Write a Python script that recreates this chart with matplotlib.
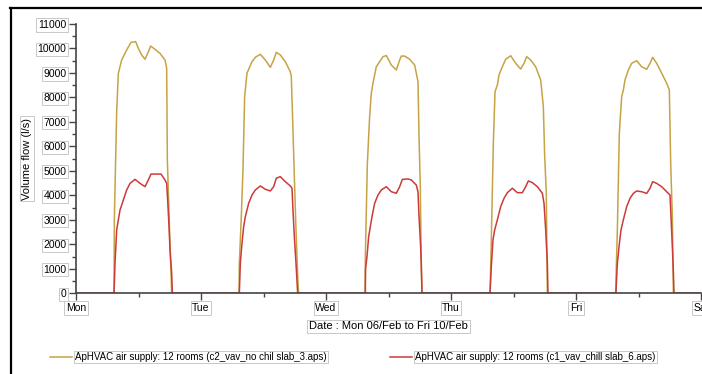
import numpy as np
import matplotlib
matplotlib.use('Agg')
import matplotlib.pyplot as plt
from matplotlib.lines import Line2D
from matplotlib.ticker import MultipleLocator

plt.rcParams['font.family'] = ['Liberation Sans', 'DejaVu Sans']

# Day names on the x axis (hours from Mon 00:00)
day_labels = ['Mon', 'Tue', 'Wed', 'Thu', 'Fri', 'Sat']

# c2_vav_no chil slab_3 : hour of day / flow (l/s), one pair per day
mon_a_h = [7.30, 7.36, 7.81, 8.13, 8.77, 9.73, 10.56, 11.46, 11.97, 12.61, 13.25, 13.76, 14.34, 15.17, 16.13, 17.09, 17.41, 17.54, 17.92, 18.37]
mon_a_v = [0, 3000, 7420, 8985, 9530, 9940, 10250, 10280, 10000, 9735, 9560, 9800, 10100, 9965, 9800, 9530, 9190, 5440, 2870, 0]
tue_a_h = [7.30, 7.36, 7.74, 8.06, 8.38, 8.83, 9.79, 10.43, 11.39, 12.35, 13.31, 13.95, 14.46, 15.23, 16.19, 17.15, 17.34, 17.60, 17.92, 18.24, 18.62, 18.75]
tue_a_v = [0, 1225, 3130, 5040, 8030, 8990, 9460, 9640, 9763, 9530, 9230, 9530, 9845, 9735, 9460, 9050, 8850, 7080, 4760, 2585, 420, 0]
wed_a_h = [7.50, 7.55, 7.94, 8.38, 8.70, 9.02, 9.66, 10.30, 10.94, 11.58, 12.54, 13.50, 14.14, 14.46, 15.10, 16.06, 17.02, 17.66, 17.86, 18.11, 18.30, 18.43]
wed_a_v = [0, 1500, 5310, 7215, 8170, 8580, 9255, 9460, 9665, 9710, 9325, 9120, 9530, 9690, 9690, 9560, 9325, 8645, 6400, 4355, 950, 0]
thu_a_h = [7.49, 7.74, 8.13, 8.45, 8.90, 9.22, 9.86, 10.50, 11.46, 12.42, 13.38, 14.02, 14.53, 15.30, 16.26, 17.22, 17.73, 17.98, 18.30, 18.50]
thu_a_v = [0, 2180, 6130, 8235, 8510, 8920, 9255, 9560, 9705, 9395, 9160, 9395, 9665, 9530, 9255, 8715, 7620, 5650, 4085, 0]
fri_a_h = [7.66, 7.68, 7.94, 8.32, 8.77, 9.09, 9.41, 10.05, 10.69, 11.65, 12.61, 13.57, 14.21, 14.72, 15.49, 16.45, 17.41, 17.92, 18.18, 18.50, 18.69]
fri_a_v = [0, 610, 2585, 6535, 8030, 8305, 8715, 9120, 9395, 9500, 9255, 9150, 9395, 9640, 9395, 8990, 8580, 8305, 5310, 3130, 0]

# c1_vav_chill slab_6
mon_b_h = [7.30, 7.49, 7.81, 8.13, 8.45, 9.09, 9.73, 10.37, 11.33, 12.29, 13.25, 13.89, 14.40, 15.49, 16.32, 17.09, 17.41, 17.60, 17.86, 18.05, 18.37, 18.50]
mon_b_v = [0, 1225, 2590, 3000, 3400, 3810, 4220, 4490, 4655, 4490, 4355, 4630, 4870, 4870, 4870, 4630, 4490, 3810, 2720, 1770, 817, 0]
tue_b_h = [7.36, 7.55, 7.87, 8.19, 8.51, 9.15, 9.79, 10.43, 11.39, 12.35, 13.31, 13.95, 14.46, 15.23, 16.19, 17.15, 17.47, 17.66, 17.92, 18.24, 18.56]
tue_b_v = [0, 1225, 2040, 2720, 3130, 3675, 4015, 4220, 4383, 4250, 4180, 4355, 4700, 4765, 4560, 4383, 4290, 3400, 2310, 1225, 0]
wed_b_h = [7.55, 7.60, 7.87, 8.19, 8.51, 8.83, 9.34, 9.98, 10.62, 11.58, 12.54, 13.50, 14.14, 14.66, 15.74, 16.38, 17.34, 17.66, 17.86, 18.11, 18.30, 18.43]
wed_b_v = [0, 1000, 1500, 2310, 2720, 3130, 3675, 4015, 4220, 4355, 4150, 4085, 4355, 4655, 4670, 4630, 4420, 4150, 3130, 2175, 1225, 0]
thu_b_h = [7.49, 7.74, 8.06, 8.38, 8.90, 9.54, 10.18, 10.82, 11.78, 12.74, 13.70, 14.34, 14.85, 15.62, 16.58, 17.54, 17.86, 18.18, 18.50, 18.62]
thu_b_v = [0, 1090, 2175, 2585, 3000, 3540, 3880, 4110, 4290, 4110, 4110, 4355, 4590, 4520, 4355, 4085, 3675, 2585, 1225, 0]
fri_b_h = [7.66, 7.94, 8.26, 8.64, 9.09, 9.73, 10.37, 11.01, 11.65, 12.61, 13.57, 14.21, 14.72, 15.49, 16.45, 17.41, 18.05, 18.24, 18.50, 18.69, 18.82]
fri_b_v = [0, 1225, 1905, 2585, 3000, 3540, 3880, 4080, 4180, 4150, 4080, 4290, 4560, 4490, 4355, 4150, 4015, 3130, 1905, 925, 0]

label_a = 'ApHVAC air supply: 12 rooms (c2_vav_no chil slab_3.aps)'
label_b = 'ApHVAC air supply: 12 rooms (c1_vav_chill slab_6.aps)'


def week_series(days_h, days_v):
    # join the days into one week long series, zero between them
    t = [0.0]
    v = [0.0]
    for d, (hh, vv) in enumerate(zip(days_h, days_v)):
        t += [d * 24 + h for h in hh]
        v += list(vv)
    t.append(120.0)
    v.append(0.0)
    return np.array(t), np.array(v)


ta, va = week_series([mon_a_h, tue_a_h, wed_a_h, thu_a_h, fri_a_h],
                     [mon_a_v, tue_a_v, wed_a_v, thu_a_v, fri_a_v])
tb, vb = week_series([mon_b_h, tue_b_h, wed_b_h, thu_b_h, fri_b_h],
                     [mon_b_v, tue_b_v, wed_b_v, thu_b_v, fri_b_v])

fig = plt.figure(figsize=(7.02, 3.74), dpi=100)
ax = fig.add_axes([76 / 702, 1 - 293.3 / 374, 625 / 702, (293.3 - 24) / 374])

la, = ax.plot(ta, va, color='#c6a344', lw=1.1, label=label_a)
lb, = ax.plot(tb, vb, color='#cc3a3a', lw=1.1, label=label_b)

ax.set_xlim(0, 120)
ax.set_ylim(0, 11000)
ax.set_xticks(np.arange(0, 121, 24))
ax.set_xticklabels(day_labels)
ax.xaxis.set_minor_locator(MultipleLocator(12))
ax.yaxis.set_major_locator(MultipleLocator(1000))
ax.yaxis.set_minor_locator(MultipleLocator(500))

for s in ['top', 'right']:
    ax.spines[s].set_visible(False)
for s in ['left', 'bottom']:
    ax.spines[s].set_color('#444444')
    ax.spines[s].set_linewidth(1.2)

ax.tick_params(which='major', direction='out', length=5, width=1, color='#444444',
               labelsize=7.5, pad=2)
ax.tick_params(which='minor', direction='out', length=3, width=1, color='#444444')

box = dict(boxstyle='square,pad=0.15', fc='white', ec='#c8c8c8', lw=0.7)
for lab in ax.get_xticklabels() + ax.get_yticklabels():
    lab.set_bbox(box)

ax.set_xlabel('Date : Mon 06/Feb to Fri 10/Feb', fontsize=8, labelpad=6, bbox=box)
ax.set_ylabel('Volume flow (l/s)', fontsize=8, labelpad=4, bbox=box)

leg = fig.legend(handles=[la, lb], loc='center left', bbox_to_anchor=(50 / 702, 17 / 374),
                 ncol=2, frameon=False, fontsize=7, handlelength=2.3, handletextpad=0.3,
                 columnspacing=6.5, borderpad=0, borderaxespad=0)
for txt in leg.get_texts():
    txt.set_bbox(box)

# window frame around the chart
fig.add_artist(Line2D([10 / 702, 1], [1 - 7.5 / 374, 1 - 7.5 / 374], color='black', lw=1.6))
fig.add_artist(Line2D([10.5 / 702, 10.5 / 702], [0, 1 - 7.5 / 374], color='black', lw=1.6))

fig.savefig('out.png', dpi=100)
